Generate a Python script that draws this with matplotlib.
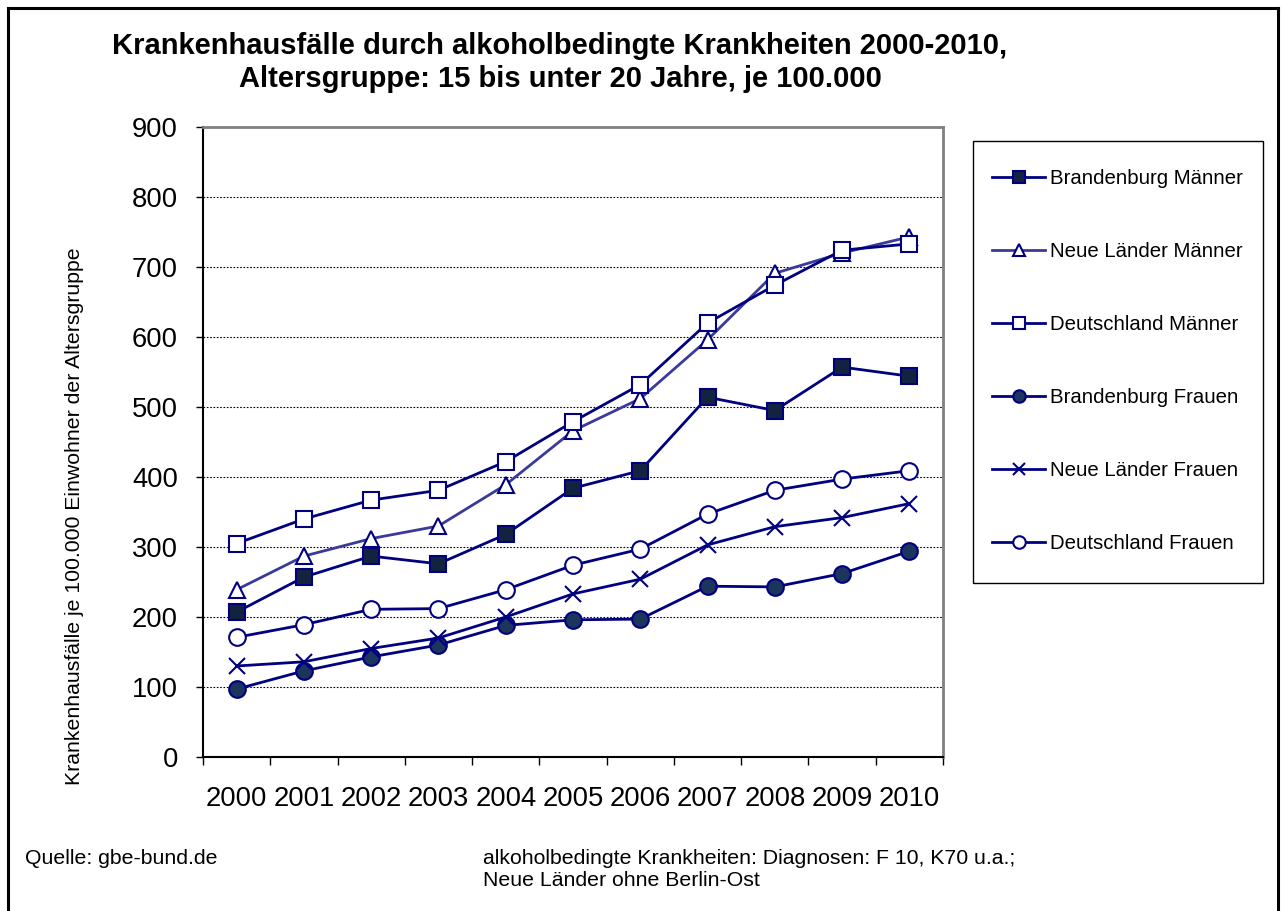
import matplotlib.pyplot as plt
from matplotlib.lines import Line2D
from matplotlib.patches import Rectangle

plt.rcParams['font.family'] = ['Liberation Sans', 'DejaVu Sans']

jahre = ['2000', '2001', '2002', '2003', '2004', '2005', '2006', '2007', '2008', '2009', '2010']

bb_maenner = [207, 257, 287, 276, 318, 384, 409, 514, 495, 557, 544]
nl_maenner = [239, 287, 312, 330, 389, 466, 512, 596, 691, 720, 743]
de_maenner = [305, 340, 367, 381, 422, 479, 532, 620, 674, 724, 733]
bb_frauen = [97, 123, 143, 160, 188, 196, 197, 244, 243, 262, 294]
nl_frauen = [130, 136, 155, 170, 200, 233, 254, 303, 329, 342, 362]
de_frauen = [171, 189, 211, 212, 239, 274, 297, 347, 381, 397, 409]

navy = '#000080'

W, H = 1281, 911
fig = plt.figure(figsize=(W / 100, H / 100), dpi=100)

# plot area in pixel coordinates
x0, y0, x1, y1 = 203, 127, 943, 757
ax = fig.add_axes([x0 / W, 1 - y1 / H, (x1 - x0) / W, (y1 - y0) / H])

xs = list(range(len(jahre)))
lw = 2.0
ms = 12

ax.plot(xs, bb_maenner, color=navy, lw=lw, marker='s', ms=ms,
        mfc='#13233f', mec=navy, mew=1.5, label='Brandenburg Männer', zorder=5)
ax.plot(xs, nl_maenner, color='#3a3a9a', lw=lw, marker='^', ms=ms,
        mfc='white', mec=navy, mew=1.5, label='Neue Länder Männer', zorder=4)
ax.plot(xs, de_maenner, color=navy, lw=lw, marker='s', ms=ms,
        mfc='white', mec=navy, mew=1.5, label='Deutschland Männer', zorder=5)
ax.plot(xs, bb_frauen, color=navy, lw=lw, marker='o', ms=ms,
        mfc='#1b355c', mec=navy, mew=1.5, label='Brandenburg Frauen', zorder=5)
ax.plot(xs, nl_frauen, color=navy, lw=lw, marker='x', ms=ms,
        mec=navy, mew=1.5, label='Neue Länder Frauen', zorder=5)
ax.plot(xs, de_frauen, color=navy, lw=lw, marker='o', ms=ms,
        mfc='white', mec=navy, mew=1.5, label='Deutschland Frauen', zorder=5)

ax.set_xlim(-0.5, len(jahre) - 0.5)
ax.set_ylim(0, 900)
ax.set_yticks(range(0, 901, 100))
ax.tick_params(axis='y', length=5, width=1, pad=13, labelsize=19.7)
for yv in range(100, 900, 100):
    ax.axhline(yv, color='black', lw=0.8, ls=(0, (1.5, 1.5)), zorder=1)

ax.set_xticks([i - 0.5 for i in range(len(jahre) + 1)])
ax.set_xticklabels([])
ax.set_xticks(xs, minor=True)
ax.set_xticklabels(jahre, minor=True)
ax.tick_params(axis='x', which='major', length=6, width=1)
ax.tick_params(axis='x', which='minor', length=0, pad=21, labelsize=19.7)

ax.spines['left'].set_linewidth(1.5)
ax.spines['bottom'].set_linewidth(1.5)
ax.spines['top'].set_color('#808080')
ax.spines['right'].set_color('#808080')
ax.spines['top'].set_linewidth(2)
ax.spines['right'].set_linewidth(2)

fig.text(75 / W, 1 - 516 / H, 'Krankenhausfälle je 100.000 Einwohner der Altersgruppe',
         rotation=90, ha='center', va='center', fontsize=15.3)

fig.text(560 / W, 1 - 62.5 / H,
         'Krankenhausfälle durch alkoholbedingte Krankheiten 2000-2010,\n'
         'Altersgruppe: 15 bis unter 20 Jahre, je 100.000',
         ha='center', va='center', fontsize=21, fontweight='bold', linespacing=1.27)

fig.text(25 / W, 1 - 858 / H, 'Quelle: gbe-bund.de', ha='left', va='center', fontsize=15.3)
fig.text(483 / W, 1 - 870 / H,
         'alkoholbedingte Krankheiten: Diagnosen: F 10, K70 u.a.;\nNeue Länder ohne Berlin-Ost',
         ha='left', va='center', fontsize=15.3, linespacing=1.2)

# legend box drawn separately so its size matches the original
fig.add_artist(Rectangle((973 / W, 1 - 583 / H), 290 / W, 442 / H, fill=False,
                         edgecolor='black', lw=1.0, transform=fig.transFigure))
leg = ax.legend(loc='upper left', bbox_to_anchor=(992 / W, 1 - 169.5 / H),
                bbox_transform=fig.transFigure, fontsize=14.7, frameon=False,
                handlelength=2.6, handletextpad=0.25, labelspacing=2.64,
                borderpad=0, borderaxespad=0, markerscale=0.75)

# outer frame
for xa, ya in [([8, 8], [8, 911]), ([8, 1278], [8, 8]), ([1278, 1278], [8, 911])]:
    fig.add_artist(Line2D([v / W for v in xa], [1 - v / H for v in ya],
                          color='black', lw=2.2, transform=fig.transFigure))

fig.savefig('out.png', dpi=100)
